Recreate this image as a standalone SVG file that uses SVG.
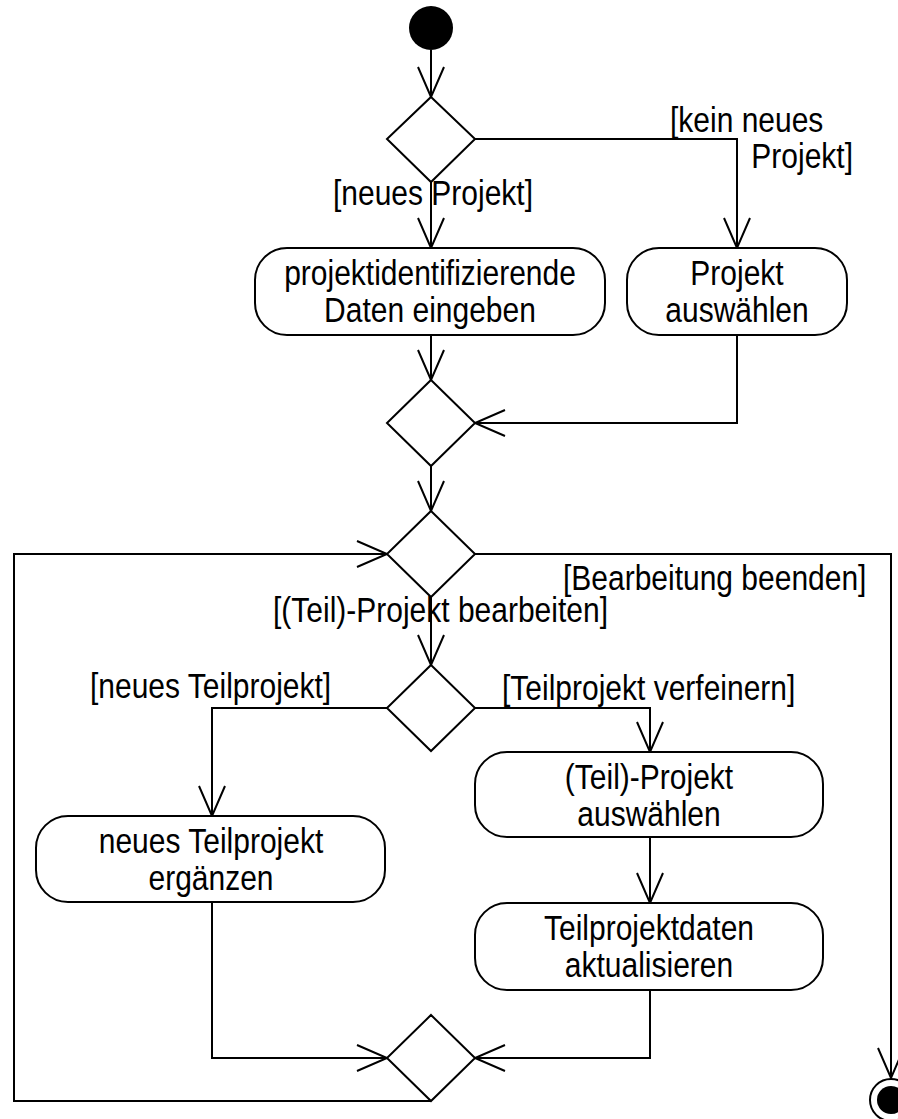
<svg xmlns="http://www.w3.org/2000/svg" width="898" height="1119" viewBox="0 0 898 1119">
<style>
  .n { fill: #fff; stroke: #000; stroke-width: 2; }
  .c { fill: none; stroke: #000; stroke-width: 2; }
  text { font-family: "Liberation Sans", Arial, sans-serif; font-size: 30px; fill: #000; }
  .m { text-anchor: middle; }
  .e { text-anchor: end; }
</style>
<defs>
  <marker id="arr" markerUnits="userSpaceOnUse" markerWidth="40" markerHeight="30" viewBox="0 0 40 30" refX="31" refY="15" orient="auto" overflow="visible">
    <path d="M1,2 L31,15 L1,28" fill="none" stroke="#000" stroke-width="2"/>
  </marker>
</defs>
<rect width="898" height="1119" fill="#fff"/>

<g id="connectors">
  <path class="c" d="M431,50 L431,97" marker-end="url(#arr)"/>
  <path class="c" d="M475,139 L737,139 L737,248" marker-end="url(#arr)"/>
  <path class="c" d="M431,182 L431,248" marker-end="url(#arr)"/>
  <path class="c" d="M431,335 L431,380" marker-end="url(#arr)"/>
  <path class="c" d="M737,335 L737,423 L475,423" marker-end="url(#arr)"/>
  <path class="c" d="M431,466 L431,511" marker-end="url(#arr)"/>
  <path class="c" d="M475,554 L891,554 L891,1078" marker-end="url(#arr)"/>
  <path class="c" d="M431,597 L431,665" marker-end="url(#arr)"/>
  <path class="c" d="M387,708 L212,708 L212,816" marker-end="url(#arr)"/>
  <path class="c" d="M475,708 L650,708 L650,752" marker-end="url(#arr)"/>
  <path class="c" d="M650,837 L650,903" marker-end="url(#arr)"/>
  <path class="c" d="M212,902 L212,1058 L387,1058" marker-end="url(#arr)"/>
  <path class="c" d="M650,990 L650,1058 L475,1058" marker-end="url(#arr)"/>
  <path class="c" d="M431,1101 L14,1101 L14,554 L387,554" marker-end="url(#arr)"/>
</g>

<g id="labels">
  <text transform="translate(670,132) scale(1,1.15)">[kein neues</text>
  <text class="e" transform="translate(853,168) scale(1,1.15)">Projekt]</text>
  <text transform="translate(333,205) scale(1,1.15)">[neues Projekt]</text>
  <text transform="translate(563,590) scale(1,1.15)">[Bearbeitung beenden]</text>
  <text transform="translate(273,622) scale(1,1.15)">[(Teil)-Projekt bearbeiten]</text>
  <text transform="translate(90,698) scale(1,1.15)">[neues Teilprojekt]</text>
  <text transform="translate(502,700) scale(1,1.15)">[Teilprojekt verfeinern]</text>
</g>

<g id="start">
  <circle cx="431" cy="28" r="22" fill="#000"/>
</g>

<g id="decision1"><path class="n" d="M431,97 L475,139 L431,182 L387,139 Z"/></g>

<g id="act-daten-eingeben">
  <rect class="n" x="255" y="248" width="350" height="87" rx="32" ry="32"/>
  <text class="m" transform="translate(430,285) scale(1,1.15)">projektidentifizierende</text>
  <text class="m" transform="translate(430,322) scale(1,1.15)">Daten eingeben</text>
</g>

<g id="act-projekt-auswaehlen">
  <rect class="n" x="627" y="248" width="220" height="87" rx="32" ry="32"/>
  <text class="m" transform="translate(737,285) scale(1,1.15)">Projekt</text>
  <text class="m" transform="translate(737,322) scale(1,1.15)">auswählen</text>
</g>

<g id="merge1"><path class="n" d="M431,380 L475,423 L431,466 L387,423 Z"/></g>

<g id="merge-loop"><path class="n" d="M431,511 L475,554 L431,597 L387,554 Z"/></g>

<g id="decision2"><path class="n" d="M431,665 L475,708 L431,751 L387,708 Z"/></g>

<g id="act-neues-teilprojekt">
  <rect class="n" x="36" y="816" width="349" height="86" rx="32" ry="32"/>
  <text class="m" transform="translate(211,853) scale(1,1.15)">neues Teilprojekt</text>
  <text class="m" transform="translate(211,890) scale(1,1.15)">ergänzen</text>
</g>

<g id="act-teilprojekt-auswaehlen">
  <rect class="n" x="475" y="752" width="348" height="85" rx="32" ry="32"/>
  <text class="m" transform="translate(649,789) scale(1,1.15)">(Teil)-Projekt</text>
  <text class="m" transform="translate(649,826) scale(1,1.15)">auswählen</text>
</g>

<g id="act-teilprojektdaten">
  <rect class="n" x="475" y="903" width="348" height="87" rx="32" ry="32"/>
  <text class="m" transform="translate(649,940) scale(1,1.15)">Teilprojektdaten</text>
  <text class="m" transform="translate(649,977) scale(1,1.15)">aktualisieren</text>
</g>

<g id="merge2"><path class="n" d="M431,1015 L475,1058 L431,1101 L387,1058 Z"/></g>

<g id="final">
  <circle cx="891" cy="1100" r="21" fill="#fff" stroke="#000" stroke-width="2"/>
  <circle cx="891" cy="1100" r="14" fill="#000"/>
</g>
</svg>
